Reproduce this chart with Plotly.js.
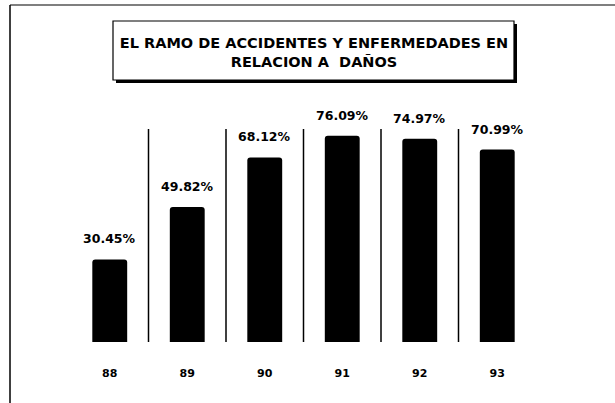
<!DOCTYPE html>
<html>
<head>
<meta charset="utf-8">
<script src="https://cdn.plot.ly/plotly-3.0.1.min.js"></script>
<style>html,body{margin:0;padding:0;background:#fff;}#chart{width:615px;height:403px;}</style>
</head>
<body>
<div id="chart"></div>
<script>
// Data
const years = ['88', '89', '90', '91', '92', '93'];
const percentages = [30.45, 49.82, 68.12, 76.09, 74.97, 70.99];
const percentLabels = ['30.45%', '49.82%', '68.12%', '76.09%', '74.97%', '70.99%'];
const chartTitle = 'EL RAMO DE ACCIDENTES Y ENFERMEDADES EN<br>RELACION A  DAÑOS';

// Layout geometry (pixels)
const W = 615, H = 403;
const M = {l: 71, r: 79, t: 71, b: 61};
const PW = W - M.l - M.r, PH = H - M.t - M.b;
const px = v => (v - M.l) / PW;       // pixel x -> paper x
const py = v => (H - M.b - v) / PH;   // pixel y -> paper y

const FONT = 'DejaVu Sans, Liberation Sans, Arial, sans-serif';

const trace = {
  type: 'bar',
  x: years,
  y: percentages,
  marker: {color: '#000000', cornerradius: 3},
  hoverinfo: 'skip'
};

// category axis: annotation x uses the category's serial index
const annotations = years.map((yr, i) => ({
  x: i, y: percentages[i], xref: 'x', yref: 'y',
  text: '<b>' + percentLabels[i] + '</b>',
  showarrow: false, yanchor: 'bottom', yshift: 11,
  font: {family: FONT, size: 12.5, color: '#000'}
}));

const shapes = [];
// outer frame lines
shapes.push({type: 'line', xref: 'paper', yref: 'paper', x0: px(10), x1: px(10), y0: py(5), y1: py(403), line: {color: '#000', width: 1.5}, layer: 'above'});
shapes.push({type: 'line', xref: 'paper', yref: 'paper', x0: px(10), x1: px(615), y0: py(5), y1: py(5), line: {color: '#000', width: 1.2}, layer: 'above'});
// title box shadow + box
shapes.push({type: 'rect', xref: 'paper', yref: 'paper', x0: px(116), x1: px(517), y0: py(24), y1: py(83), fillcolor: '#000', line: {width: 0}, layer: 'above'});
shapes.push({type: 'rect', xref: 'paper', yref: 'paper', x0: px(113), x1: px(514), y0: py(21), y1: py(80), fillcolor: '#fff', line: {color: '#000', width: 1.2}, layer: 'above'});
// separators between categories
for (let i = 0; i < years.length - 1; i++) {
  shapes.push({type: 'line', xref: 'x', yref: 'paper', x0: i + 0.5, x1: i + 0.5, y0: 0, y1: py(129), line: {color: '#000', width: 1.5}, layer: 'below'});
}

const layout = {
  width: W, height: H,
  margin: M,
  paper_bgcolor: '#fff', plot_bgcolor: '#fff',
  showlegend: false,
  bargap: 0.55,
  title: {
    text: chartTitle,
    xref: 'container', yref: 'container',
    x: 314 / W, y: 1 - 48 / H, xanchor: 'center', yanchor: 'middle',
    font: {family: FONT, size: 14.5, color: '#000', weight: 'bold'}
  },
  xaxis: {
    type: 'category', range: [-0.5, 5.5],
    showgrid: false, zeroline: false, showline: false,
    ticks: '', ticklabelstandoff: 23,
    tickfont: {family: FONT, size: 11, color: '#000', weight: 'bold'}
  },
  yaxis: {
    range: [0, 100], visible: false, showgrid: false, zeroline: false
  },
  annotations: annotations,
  shapes: shapes
};

Plotly.newPlot('chart', [trace], layout, {staticPlot: true, displayModeBar: false});
</script>
</body>
</html>
